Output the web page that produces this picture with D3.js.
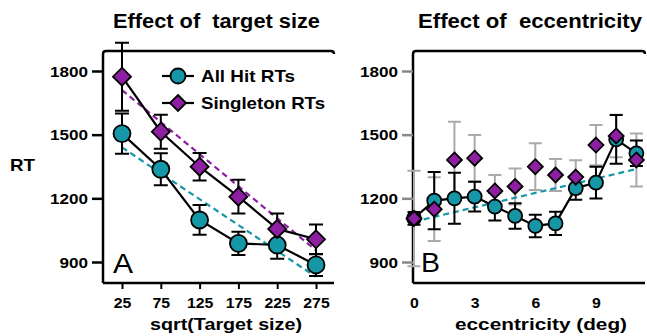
<!DOCTYPE html>
<html><head><meta charset="utf-8">
<script src="https://cdn.jsdelivr.net/npm/d3@7"></script>
<style>body{margin:0;background:#fff}svg{display:block;font-family:Arial,"Liberation Sans",sans-serif}</style>
</head><body><svg id="c" width="647" height="336"></svg>
<script>
// Panel A: effect of target size
const sizeX = [25, 75, 125, 175, 225, 275];
const sizeAllHit = [1505, 1337, 1098, 988, 980, 886];
const sizeAllHitErr = [95, 75, 70, 55, 65, 52];
const sizeSingleton = [1773, 1514, 1349, 1208, 1056, 1007];
const sizeSingletonErr = [160, 80, 65, 80, 72, 70];
const sizeFitAll = [1440, 830];       // dashed fit at x=25 and x=275
const sizeFitSingleton = [1710, 955];
// Panel B: effect of eccentricity
const eccX = [0, 1, 2, 3, 4, 5, 6, 7, 8, 9, 10, 11];
const eccAllHit = [1106, 1189, 1200, 1208, 1161, 1117, 1070, 1082, 1248, 1274, 1478, 1412];
const eccAllHitErr = [30, 135, 120, 70, 65, 60, 53, 55, 55, 75, 115, 60];
const eccSingleton = [1105, 1149, 1381, 1389, 1235, 1256, 1349, 1310, 1300, 1451, 1494, 1381];
const eccSingletonErr = [225, 150, 180, 110, 75, 85, 110, 75, 80, 95, 100, 125];
const eccFitAll = [1090, 1338];       // dashed fit at x=0 and x=11
const yTicks = [900, 1200, 1500, 1800];
const sizeTicks = [25, 75, 125, 175, 225, 275];
const eccTicks = [0, 3, 6, 9];

const CYAN = "#1597a8", PURPLE = "#8e1fa3";
const FONT = "Arial, Liberation Sans, sans-serif";
const svg = d3.select("#c");
const y = d3.scaleLinear().domain([900, 1800]).range([262, 71]);
const plotTop = 51, plotBottom = 283;

const xA = d3.scaleLinear().domain([0, 300]).range([102.6, 335.4]);
const xB = d3.scaleLinear().domain([0, 11.5]).range([414, 646.5]);

// text helper: the reference glyphs are horizontally wide, so stretch to measured width
function label(g, txt, x, yy, size, width, anchor, bold) {
  return g.append("text").attr("x", x).attr("y", yy).attr("font-size", size)
    .attr("font-weight", bold ? "bold" : "normal").attr("text-anchor", anchor || "start")
    .attr("font-family", FONT).attr("xml:space", "preserve")
    .attr("textLength", width).attr("lengthAdjust", "spacingAndGlyphs").text(txt);
}

function frame(g, x0, x1) {
  g.append("path").attr("d", `M${x0},${plotBottom}V${plotTop+3}Q${x0},${plotTop} ${x0+3},${plotTop}H${x1-3}Q${x1},${plotTop} ${x1},${plotTop+3}`)
    .attr("fill", "none").attr("stroke", "#000").attr("stroke-width", 2.5);
  g.append("line").attr("x1", x0).attr("x2", x1).attr("y1", plotBottom).attr("y2", plotBottom)
    .attr("stroke", "#000").attr("stroke-width", 2.5);
}

function yAxis(g, x0, tickColor) {
  const ax = d3.axisLeft(y).tickValues(yTicks).tickFormat(d3.format("d")).tickSize(11).tickPadding(4);
  const a = g.append("g").attr("transform", `translate(${x0},0)`).call(ax);
  a.select(".domain").remove();
  a.selectAll("line").attr("stroke", tickColor).attr("stroke-width", 2.5);
  a.selectAll("text").attr("font-size", 14).attr("font-weight", "bold").attr("fill", "#000")
    .attr("font-family", FONT).attr("dy", "0.36em")
    .attr("textLength", d => String(d).length * 9.5).attr("lengthAdjust", "spacingAndGlyphs");
}

function xAxis(g, x, ticks, tickLen) {
  const ax = d3.axisBottom(x).tickValues(ticks).tickFormat(d3.format("d")).tickSize(tickLen).tickPadding(tickLen > 0 ? 9 : 15);
  const a = g.append("g").attr("transform", `translate(0,${plotBottom})`).call(ax);
  a.select(".domain").remove();
  a.selectAll("line").attr("stroke", "#000").attr("stroke-width", 2);
  a.selectAll("text").attr("font-size", 14).attr("font-weight", "bold").attr("fill", "#000")
    .attr("font-family", FONT)
    .attr("textLength", d => String(d).length * 8.8).attr("lengthAdjust", "spacingAndGlyphs");
}

function errBars(g, x, xs, ys, es, color, cap, width) {
  const d = xs.map((v, i) => ({x: x(v), lo: y(ys[i] - es[i]), hi: y(ys[i] + es[i])}));
  const gg = g.append("g").attr("stroke", color).attr("stroke-width", width).attr("fill", "none");
  gg.selectAll("path").data(d).join("path")
    .attr("d", p => `M${p.x},${p.lo}V${p.hi}M${p.x-cap},${p.hi}H${p.x+cap}M${p.x-cap},${p.lo}H${p.x+cap}`);
}

function line(g, x, xs, ys) {
  g.append("path").datum(xs.map((v, i) => [x(v), y(ys[i])]))
    .attr("d", d3.line()).attr("fill", "none").attr("stroke", "#000").attr("stroke-width", 2.2);
}
function dashed(g, x, xs, ys, color) {
  g.append("path").datum(xs.map((v, i) => [x(v), y(ys[i])]))
    .attr("d", d3.line()).attr("fill", "none").attr("stroke", color).attr("stroke-width", 2.2)
    .attr("stroke-dasharray", "6,4");
}
function circles(g, x, xs, ys, r) {
  g.append("g").selectAll("circle").data(xs.map((v, i) => [x(v), y(ys[i])])).join("circle")
    .attr("cx", d => d[0]).attr("cy", d => d[1]).attr("r", r)
    .attr("fill", CYAN).attr("stroke", "#000").attr("stroke-width", 1.8);
}
function diamonds(g, x, xs, ys, s) {
  g.append("g").selectAll("path").data(xs.map((v, i) => [x(v), y(ys[i])])).join("path")
    .attr("d", d => `M${d[0]},${d[1]-s}L${d[0]+s},${d[1]}L${d[0]},${d[1]+s}L${d[0]-s},${d[1]}Z`)
    .attr("fill", PURPLE).attr("stroke", "#000").attr("stroke-width", 1.8);
}

// ---- Panel A ----
const gA = svg.append("g");
frame(gA, 103, 334);
yAxis(gA, 103, "#000");
xAxis(gA, xA, sizeTicks, 6);
dashed(gA, xA, [25, 275], sizeFitAll, CYAN);
dashed(gA, xA, [25, 275], sizeFitSingleton, PURPLE);
errBars(gA, xA, sizeX, sizeAllHit, sizeAllHitErr, "#000", 7, 2);
errBars(gA, xA, sizeX, sizeSingleton, sizeSingletonErr, "#000", 7, 2);
line(gA, xA, sizeX, sizeAllHit);
line(gA, xA, sizeX, sizeSingleton);
circles(gA, xA, sizeX, sizeAllHit, 8.5);
diamonds(gA, xA, sizeX, sizeSingleton, 9);

// legend
const lg = gA.append("g");
[["All Hit RTs", 76, "c", 94], ["Singleton RTs", 103, "d", 124]].forEach(([t, yy, k, w]) => {
  lg.append("line").attr("x1", 162).attr("x2", 194).attr("y1", yy).attr("y2", yy)
    .attr("stroke", "#000").attr("stroke-width", 2.2);
  if (k === "c") lg.append("circle").attr("cx", 178).attr("cy", yy).attr("r", 7.5)
    .attr("fill", CYAN).attr("stroke", "#000").attr("stroke-width", 1.8);
  else lg.append("path").attr("d", `M178,${yy-8}L186,${yy}L178,${yy+8}L170,${yy}Z`)
    .attr("fill", PURPLE).attr("stroke", "#000").attr("stroke-width", 1.8);
  label(lg, t, 201, yy + 6, 17, w, "start", true);
});
label(gA, "A", 113, 273, 27, 20, "start", false);

// ---- Panel B ----
const gB = svg.append("g");
frame(gB, 413, 645);
yAxis(gB, 413, "#888");
xAxis(gB, xB, eccTicks, 0);
errBars(gB, xB, eccX, eccSingleton, eccSingletonErr, "#aaa", 6.5, 2);
dashed(gB, xB, [0, 11], eccFitAll, CYAN);
errBars(gB, xB, eccX, eccAllHit, eccAllHitErr, "#000", 6.5, 2);
line(gB, xB, eccX, eccAllHit);
circles(gB, xB, eccX, eccAllHit, 7);
diamonds(gB, xB, eccX, eccSingleton, 7.5);
label(gB, "B", 421, 272, 27, 19, "start", false);

// titles and axis titles
label(svg, "Effect of  target size", 216.5, 28, 19.5, 207, "middle", true);
label(svg, "Effect of  eccentricity", 530, 28, 19.5, 224, "middle", true);
label(svg, "RT", 10, 171, 17, 25, "start", true);
label(svg, "sqrt(Target size)", 226, 330, 16.5, 152, "middle", true);
label(svg, "eccentricity (deg)", 541, 330, 16.5, 172, "middle", true);
</script></body></html>
